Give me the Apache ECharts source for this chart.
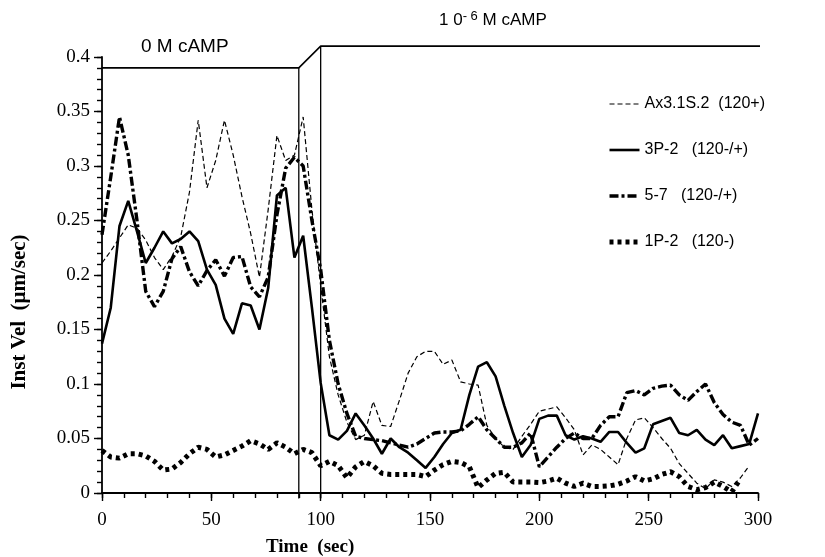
<!DOCTYPE html>
<html>
<head>
<meta charset="utf-8">
<script src="https://cdn.jsdelivr.net/npm/echarts@6/dist/echarts.min.js"></script>
<style>
  html, body { margin: 0; padding: 0; background: #fff; }
  #main { width: 825px; height: 557px; }
</style>
</head>
<body>
<div id="main"></div>
<script>
// time points (sec)
var times = [0, 4, 8, 12, 16, 20, 24, 28, 32, 36, 40, 44, 48, 52, 56, 60, 64, 68, 72, 76,
  80, 84, 88, 92, 96, 100, 104, 108, 112, 116, 120, 124, 128, 132, 136, 140, 144, 148, 152, 156,
  160, 164, 168, 172, 176, 180, 184, 188, 192, 196, 200, 204, 208, 212, 216, 220, 224, 228, 232, 236,
  240, 244, 248, 252, 256, 260, 264, 268, 272, 276, 280, 284, 288, 292, 296, 300];

// Ax3.1S.2 (120+)
var axVel = [0.211, 0.222, 0.234, 0.246, 0.243, 0.232, 0.216, 0.205, 0.217, 0.235, 0.276, 0.342, 0.280, 0.305, 0.342, 0.310, 0.272, 0.238, 0.198, 0.260,
  0.328, 0.305, 0.310, 0.345, 0.260, 0.190, 0.125, 0.090, 0.065, 0.049, 0.053, 0.084, 0.062, 0.061, 0.085, 0.110, 0.125, 0.130, 0.130, 0.118,
  0.122, 0.102, 0.100, 0.099, 0.062, 0.050, 0.042, 0.040, 0.052, 0.063, 0.075, 0.077, 0.079, 0.069, 0.058, 0.035, 0.044, 0.040, 0.033, 0.026,
  0.050, 0.067, 0.069, 0.060, 0.050, 0.041, 0.027, 0.018, 0.009, 0.004, 0.012, 0.010, 0.006, 0.014, 0.025, null];

// 3P-2 (120-/+)
var p3Vel = [0.137, 0.170, 0.245, 0.268, 0.240, 0.211, 0.225, 0.240, 0.229, 0.233, 0.240, 0.231, 0.205, 0.191, 0.160, 0.146, 0.174, 0.172, 0.150, 0.188,
  0.273, 0.280, 0.216, 0.236, 0.170, 0.101, 0.053, 0.049, 0.057, 0.073, 0.062, 0.050, 0.036, 0.050, 0.042, 0.037, 0.030, 0.023, 0.033, 0.045,
  0.055, 0.058, 0.090, 0.116, 0.120, 0.107, 0.080, 0.055, 0.033, 0.044, 0.068, 0.071, 0.071, 0.053, 0.049, 0.052, 0.050, 0.047, 0.056, 0.056,
  0.046, 0.037, 0.041, 0.063, 0.066, 0.069, 0.055, 0.053, 0.058, 0.049, 0.044, 0.053, 0.041, 0.043, 0.045, 0.073];

// 5-7 (120-/+)
var s57Vel = [0.237, 0.290, 0.345, 0.310, 0.250, 0.185, 0.171, 0.185, 0.215, 0.226, 0.203, 0.190, 0.204, 0.214, 0.199, 0.216, 0.217, 0.189, 0.180, 0.198,
  0.255, 0.298, 0.308, 0.300, 0.250, 0.205, 0.140, 0.100, 0.073, 0.052, 0.050, 0.049, 0.048, 0.046, 0.044, 0.042, 0.045, 0.050, 0.055, 0.056,
  0.056, 0.057, 0.063, 0.070, 0.058, 0.050, 0.042, 0.042, 0.046, 0.055, 0.024, 0.033, 0.042, 0.050, 0.055, 0.050, 0.050, 0.062, 0.070, 0.070,
  0.092, 0.094, 0.090, 0.096, 0.098, 0.099, 0.090, 0.085, 0.093, 0.100, 0.083, 0.072, 0.065, 0.062, 0.044, 0.050];

// 1P-2 (120-)
var p1Vel = [0.039, 0.033, 0.032, 0.036, 0.036, 0.034, 0.029, 0.021, 0.022, 0.028, 0.036, 0.042, 0.040, 0.033, 0.035, 0.039, 0.043, 0.048, 0.045, 0.040,
  0.046, 0.042, 0.036, 0.040, 0.037, 0.025, 0.029, 0.025, 0.014, 0.024, 0.029, 0.025, 0.018, 0.017, 0.017, 0.017, 0.017, 0.015, 0.021, 0.026,
  0.029, 0.028, 0.024, 0.005, 0.012, 0.018, 0.019, 0.010, 0.010, 0.010, 0.0095, 0.011, 0.0135, 0.009, 0.006, 0.009, 0.006, 0.006, 0.0065, 0.008,
  0.011, 0.015, 0.011, 0.013, 0.017, 0.0195, 0.015, 0.006, 0.003, 0.005, 0.010, 0.006, 0.001, 0.013, null, null];

// cAMP stimulus trace
var stimTimes = [0, 90, 100, 302];
var stimLevel = [0.39, 0.39, 0.41, 0.41];
var switchTimes = [90, 100];
var switchTop = [0.39, 0.41];

// axis ticks: labelled majors, unlabelled minors
var xTicks = { min: 0, max: 300, major: 50, minor: 10 };
var yTicks = { min: 0, max: 0.4, major: 0.05, minor: 0.01 };

function pairs(xs, ys) {
  var out = [];
  for (var i = 0; i < xs.length; i++) {
    out.push([xs[i], ys[i]]);
  }
  return out;
}

var serifFont = '"Liberation Serif", "DejaVu Serif", serif';
var sansFont = '"Liberation Sans", Arial, sans-serif';
var legendNames = ['Ax3.1S.2  (120+)', '3P-2   (120-/+)', '5-7   (120-/+)', '1P-2   (120-)'];
var lineStyles = [
  { color: '#000', width: 1.2, type: [5, 3] },
  { color: '#000', width: 2.6, type: 'solid' },
  { color: '#000', width: 3.4, type: [9, 3, 3, 3] },
  { color: '#000', width: 5, type: [4, 4] }
];
var velData = [axVel, p3Vel, s57Vel, p1Vel];

var series = [];
var legendData = [];
for (var s = 0; s < legendNames.length; s++) {
  series.push({
    name: legendNames[s],
    type: 'line',
    symbol: 'none',
    color: '#000',
    data: pairs(times, velData[s]),
    lineStyle: lineStyles[s]
  });
  legendData.push({ name: legendNames[s], lineStyle: lineStyles[s] });
}

series.push({
  name: 'stim',
  type: 'line',
  symbol: 'none',
  clip: false,
  silent: true,
  data: pairs(stimTimes, stimLevel),
  lineStyle: { color: '#000', width: 1.6 }
});

for (var k = 0; k < switchTimes.length; k++) {
  series.push({
    name: 'switch' + k,
    type: 'line',
    symbol: 'none',
    clip: false,
    silent: true,
    data: [[switchTimes[k], -0.005], [switchTimes[k], switchTop[k]]],
    lineStyle: { color: '#000', width: 1.3 }
  });
}

var tickStyle = { color: '#000', width: 1.4 };

var chart = echarts.init(document.getElementById('main'));
chart.setOption({
  backgroundColor: '#fff',
  animation: false,
  grid: { left: 102, right: 67, top: 57, bottom: 64 },
  legend: {
    data: legendData,
    orient: 'vertical',
    left: 607,
    top: 96,
    padding: 0,
    itemWidth: 30,
    itemHeight: 12,
    itemGap: 30,
    itemStyle: { opacity: 0 },
    textStyle: { fontFamily: sansFont, fontSize: 16, color: '#000' }
  },
  xAxis: [
    {
      type: 'value',
      min: xTicks.min,
      max: xTicks.max,
      interval: xTicks.major,
      offset: 5,
      axisLine: { lineStyle: { color: '#000', width: 1.8 } },
      axisTick: { length: 8, lineStyle: tickStyle },
      splitLine: { show: false },
      axisLabel: { fontFamily: serifFont, fontSize: 19, color: '#000', margin: 13 }
    },
    {
      type: 'value',
      position: 'bottom',
      min: xTicks.min,
      max: xTicks.max,
      interval: xTicks.minor,
      offset: 5,
      axisLine: { show: false },
      axisTick: { show: true, length: 5, lineStyle: tickStyle },
      splitLine: { show: false },
      axisLabel: { show: false }
    }
  ],
  yAxis: [
    {
      type: 'value',
      min: yTicks.min,
      max: yTicks.max,
      interval: yTicks.major,
      axisLine: { show: true, lineStyle: { color: '#000', width: 1.8 } },
      axisTick: { show: true, length: 8, lineStyle: tickStyle },
      splitLine: { show: false },
      axisLabel: { fontFamily: serifFont, fontSize: 19, color: '#000', margin: 12 }
    },
    {
      type: 'value',
      position: 'left',
      min: yTicks.min,
      max: yTicks.max,
      interval: yTicks.minor,
      axisLine: { show: false },
      axisTick: { show: true, length: 5, lineStyle: tickStyle },
      splitLine: { show: false },
      axisLabel: { show: false }
    }
  ],
  graphic: [
    {
      type: 'text',
      x: 20,
      y: 312,
      rotation: Math.PI / 2,
      style: {
        text: 'Inst Vel  (\u03bcm/sec)',
        font: 'bold 21px ' + serifFont,
        fill: '#000',
        align: 'center',
        verticalAlign: 'middle'
      }
    },
    {
      type: 'text',
      left: 266,
      top: 538,
      style: { text: 'Time  (sec)', font: 'bold 19px ' + serifFont, fill: '#000' }
    },
    {
      type: 'text',
      left: 141,
      top: 37,
      style: { text: '0 M cAMP', font: '19px ' + sansFont, fill: '#000' }
    },
    {
      type: 'text',
      left: 439,
      top: 10,
      style: {
        text: '1 0{sup|- 6} M cAMP',
        font: '17px ' + sansFont,
        fill: '#000',
        rich: {
          sup: { fontFamily: sansFont, fontSize: 13, verticalAlign: 'top', padding: [0, 0, 7, 0], fill: '#000' }
        }
      }
    }
  ],
  series: series
});
</script>
</body>
</html>
